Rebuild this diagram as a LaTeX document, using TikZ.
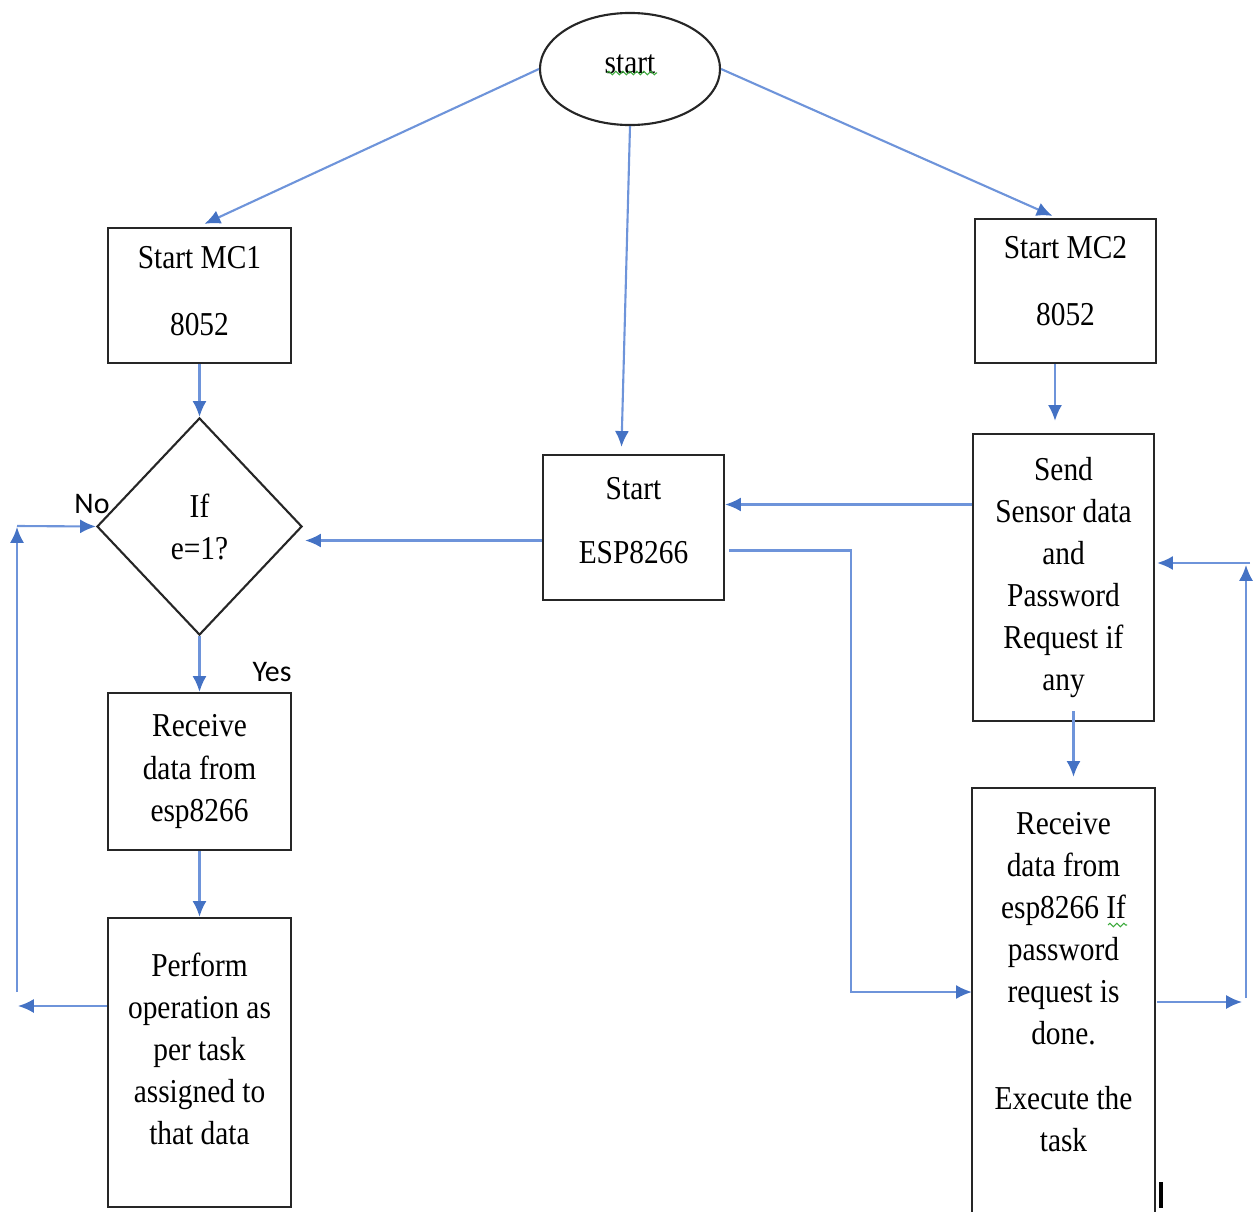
\documentclass[tikz,border=0pt]{standalone}
\usepackage{fontspec}
\setmainfont[FakeStretch=0.88]{Liberation Serif}
\newfontfamily\lblfont{Carlito}
\usetikzlibrary{shapes.geometric,arrows.meta,calc,decorations.pathmorphing}
\definecolor{connc}{RGB}{110,148,218}
\definecolor{tipc}{RGB}{68,114,196}
\definecolor{sqg}{RGB}{60,170,60}
\tikzset{
 box/.style={draw=black!85, line width=0.6pt, rectangle, align=center, inner sep=0pt, font=\fontsize{9.5}{11.95}\selectfont},
 conn/.style={draw=connc, line width=0.6pt, -{Latex[length=4.5pt,width=4pt,color=tipc]}},
 lbl/.style={font=\lblfont\fontsize{8.5}{10}\selectfont, inner sep=0pt},
 squig/.style={draw=sqg, line width=0.3pt, decorate, decoration={zigzag, amplitude=0.5pt, segment length=2pt}}
}
\begin{document}
\begin{tikzpicture}[x=0.01cm,y=-0.01cm]
\clip (0,0) rectangle (1254,1212);
% nodes
\node[box, ellipse, minimum width=1.8cm, minimum height=1.12cm] (start) at (630,69) {start\\[-9pt]\mbox{}};
\node[box, minimum width=1.83cm, minimum height=1.35cm] (mc1) at (199.5,295.5) {Start MC1\\[7pt]8052\\[-9.5pt]\mbox{}};
\node[box, minimum width=1.81cm, minimum height=1.44cm] (mc2) at (1065.5,291) {Start MC2\\[7pt]8052\\[-6.3pt]\mbox{}};
\node[box, diamond, minimum width=2.05cm, minimum height=2.17cm] (dia) at (199.5,526.5) {If\\e=1?};
\node[box, minimum width=1.81cm, minimum height=1.45cm] (esp) at (633.5,527.5) {Start\\[6.3pt]ESP8266\\[-8pt]\mbox{}};
\node[box, minimum width=1.81cm, minimum height=2.87cm] (send) at (1063.5,577.5) {Send\\Sensor data\\and\\Password\\Request if\\any};
\node[box, minimum width=1.83cm, minimum height=1.57cm] (rl) at (199.5,771.5) {Receive\\data from\\esp8266};
\node[box, minimum width=1.83cm, minimum height=2.89cm] (perf) at (199.5,1062.5) {Perform\\operation as\\per task\\assigned to\\that data\\[-4pt]\mbox{}};
\node[box, draw=none, minimum width=1.81cm, minimum height=3.86cm] (rr) at (1063.5,982) {Receive\\data from\\esp8266 If\\password\\request is\\done.\\[6.3pt]Execute the\\task};
\draw[black!85, line width=0.6pt] ($(rr.south west)+(0,60)$) -- (rr.north west) -- (rr.north east) -- ($(rr.south east)+(0,60)$);
\node[lbl] (no) at (92,504) {No};
\node[lbl] (yes) at (272,672) {Yes};
% spell-check squiggles and cursor mark
\draw[squig] (607,73) -- (657,73);
\draw[squig] (1108,925) -- (1127,925);
\draw[black, line width=0.9pt] (1161,1182) -- (1161,1208);
% connectors
\draw[conn] (start.west) -- ($(mc1.north)+(5,-3)$);
\draw[conn] (start.south) -- ($(esp.north)+(-12,-7)$);
\draw[conn] (start.east) -- ($(mc2.north)+(-13,-2)$);
\draw[conn] (mc1.south) -- (dia.north);
\draw[conn] ($(esp.west)+(0,13)$) -- ($(dia.east)+(2,14)$);
\draw[conn] ($(send.west)+(0,-73)$) -- ($(esp.east)+(0,-23)$);
\coordinate (c1) at (851,550.5);
\draw[conn] ($(esp.east)+(4,23)$) -- (c1) |- ($(rr.west)+(0,10)$);
\draw[conn] (dia.south) -- (rl.north);
\draw[conn] (rl.south) -- (perf.north);
\coordinate (l1) at (18,1006);
\coordinate (l2) at (17,992);
\coordinate (l3) at (17,527);
\draw[conn] ($(perf.west)+(0,-56.5)$) -- (l1);
\draw[conn] (l2) -- (l3);
\draw[conn] (17,526) -- (dia.west);
\draw[conn] ($(mc2.south)+(-10.5,0)$) -- ($(send.north)+(-8.5,-12)$);
\draw[conn] ($(send.south)+(10,-11)$) -- ($(rr.north)+(10,-11)$);
\coordinate (r1) at (1242,1002);
\coordinate (r2) at (1246,998);
\coordinate (r3) at (1246,565);
\coordinate (r4) at (1250,563);
\draw[conn] ($(rr.east)+(2,20)$) -- (r1);
\draw[conn] (r2) -- (r3);
\draw[conn] (r4) -- ($(send.east)+(2,-14.5)$);
\end{tikzpicture}
\end{document}
